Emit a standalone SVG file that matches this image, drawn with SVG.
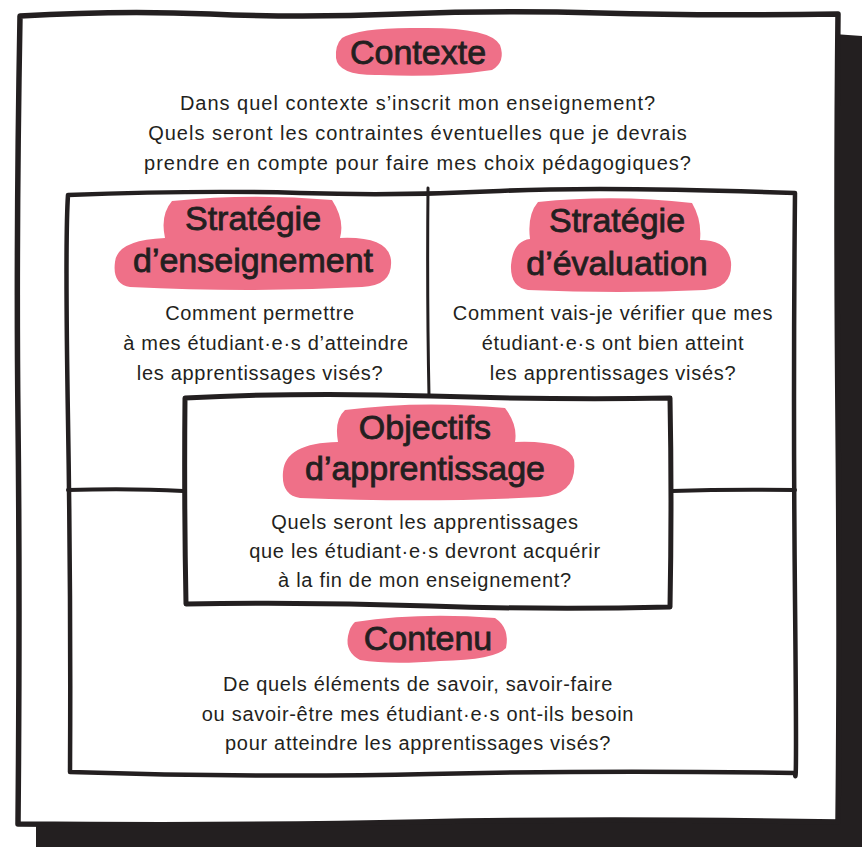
<svg xmlns="http://www.w3.org/2000/svg" width="864" height="847" viewBox="0 0 864 847">
<style>
.ln{fill:none;stroke:#231f20;stroke-linecap:round;stroke-linejoin:round}
.blob{fill:#ef7088}
.h{font-family:"Liberation Sans",Arial,sans-serif;font-size:34px;fill:#231f20;text-anchor:middle;stroke:#231f20;stroke-width:0.8}
.t{font-family:"Liberation Sans",Arial,sans-serif;font-size:20px;letter-spacing:0.7px;fill:#231f20;text-anchor:middle}
.c{letter-spacing:1px}
</style>
<rect width="864" height="847" fill="#ffffff"/>
<g id="frame">
<path d="M834,34 L862,36 L862,847 L36,847 L36,824 L834,820 Z" fill="#231f20"/>
<path d="M20,16 Q120,10 210,14 T400,14 T600,13 T838,14 Q836,200 838,420 T838,822 Q600,818 420,822 T18,824 Q20,600 18,420 T20,16 Z" fill="#ffffff"/>
<path class="ln" stroke-width="5.5" d="M20,16 Q120,10 210,14 T400,14 T600,13 T838,14 Q836,200 838,420 T838,822 Q600,818 420,822 T18,824 Q20,600 18,420 T20,16 Z"/>
</g>
<g id="contexte">
<path class="blob" d="M342,38 Q360,27 420,28 Q490,27 500,45 Q506,62 492,70 Q440,78 380,75 Q338,76 336,58 Q335,45 342,38 Z"/>
<text class="h" x="418" y="64">Contexte</text>
<text class="t c" x="418" y="110">Dans quel contexte s’inscrit mon enseignement?</text>
<text class="t c" x="418" y="140">Quels seront les contraintes éventuelles que je devrais</text>
<text class="t c" x="418" y="170">prendre en compte pour faire mes choix pédagogiques?</text>
</g>
<g id="connectors">
<path class="ln" stroke-width="4.5" d="M68,195 Q200,190 300,193 T500,191 T795,193 Q793,400 795,600 T795,773 Q600,770 430,774 T70,772 Q71,600 68,420 T68,195 Z"/>
<path class="ln" stroke-width="3" d="M428,188 Q427,300 429,396"/>
<path class="ln" stroke-width="4" d="M68,490 Q130,488 183,491"/>
<path class="ln" stroke-width="4" d="M672,491 Q730,489 795,490"/>
</g>
<g id="strategie-enseignement">
<path class="blob" d="M172,201 Q250,193 332,200 Q345,220 340,238 Q388,236 391,260 Q393,286 362,287 Q250,293 130,287 Q112,284 115,262 Q117,240 165,238 Q160,215 172,201 Z"/>
<text class="h" x="253" y="230">Stratégie</text>
<text class="h" x="253" y="272">d’enseignement</text>
<text class="t" x="260" y="320">Comment permettre</text>
<text class="t" x="266" y="350">à mes étudiant·e·s d’atteindre</text>
<text class="t" x="260" y="380">les apprentissages visés?</text>
</g>
<g id="strategie-evaluation">
<path class="blob" d="M538,202 Q615,194 692,203 Q702,220 700,240 Q728,240 731,262 Q733,288 705,290 Q620,294 528,290 Q510,287 511,265 Q513,241 530,239 Q527,215 538,202 Z"/>
<text class="h" x="617" y="232">Stratégie</text>
<text class="h" x="617" y="275">d’évaluation</text>
<text class="t" x="613" y="320">Comment vais-je vérifier que mes</text>
<text class="t" x="613" y="350">étudiant·e·s ont bien atteint</text>
<text class="t" x="613" y="380">les apprentissages visés?</text>
</g>
<g id="objectifs">
<path class="ln" stroke-width="5" fill="#ffffff" d="M185,398 Q300,392 430,396 T670,398 Q672,500 670,607 Q550,610 430,606 T186,604 Q184,500 185,398 Z"/>
<path class="blob" d="M345,410 Q420,400 505,408 Q518,425 515,442 Q568,440 574,460 Q578,495 540,497 Q430,503 300,498 Q281,495 283,472 Q285,443 338,442 Q334,420 345,410 Z"/>
<text class="h" x="425" y="439">Objectifs</text>
<text class="h" x="425" y="480">d’apprentissage</text>
<text class="t" x="425" y="529">Quels seront les apprentissages</text>
<text class="t" x="425" y="558">que les étudiant·e·s devront acquérir</text>
<text class="t" x="425" y="587">à la fin de mon enseignement?</text>
</g>
<g id="contenu">
<path class="blob" d="M355,622 Q420,612 495,618 Q510,628 506,648 Q495,660 440,661 Q390,665 360,660 Q345,652 348,636 Q350,626 355,622 Z"/>
<text class="h" x="428" y="650">Contenu</text>
<text class="t" x="418" y="691">De quels éléments de savoir, savoir-faire</text>
<text class="t" x="418" y="721">ou savoir-être mes étudiant·e·s ont-ils besoin</text>
<text class="t" x="418" y="750">pour atteindre les apprentissages visés?</text>
</g>
</svg>
